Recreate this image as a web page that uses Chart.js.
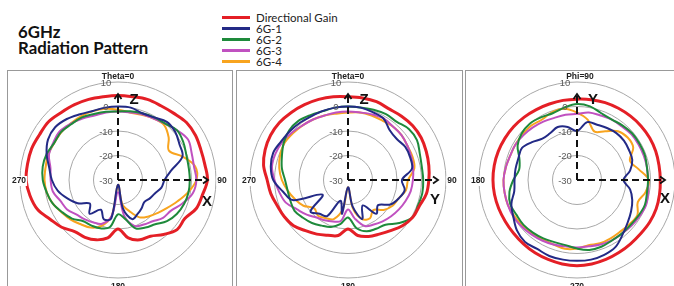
<!DOCTYPE html>
<html>
<head>
<meta charset="utf-8">
<script src="https://cdn.jsdelivr.net/npm/chart.js@4.4.1/dist/chart.umd.min.js"></script>
<style>
  html, body { margin: 0; padding: 0; background: #fff; }
  body { width: 674px; height: 286px; overflow: hidden; position: relative; font-family: Lato, "Liberation Sans", sans-serif; }
  .title { position: absolute; left: 18px; font-weight: bold; font-size: 16.8px; line-height: 17px; color: #111; white-space: nowrap; }
  #legend { position: absolute; left: 222px; top: 12px; }
  .row { display: flex; align-items: center; height: 11px; font-size: 11.5px; color: #222; white-space: nowrap; }
  .row i { display: inline-block; width: 28px; height: 2.5px; margin-right: 6px; }
  .box { position: absolute; top: 70px; height: 240px; border: 1px solid #999; }
  canvas { position: absolute; }
</style>
</head>
<body>
<div class="title" style="top:23px">6GHz</div>
<div class="title" style="top:38.5px">Radiation Pattern</div>
<div id="legend"></div>
<div class="box" style="left:7px;width:224px"></div>
<div class="box" style="left:236px;width:225px"></div>
<div class="box" style="left:465px;width:230px"></div>
<canvas id="xz" width="232" height="232" style="left:2px;top:64px"></canvas>
<canvas id="yz" width="232" height="232" style="left:232px;top:64px"></canvas>
<canvas id="xy" width="232" height="232" style="left:461px;top:64px"></canvas>
<script>
// angle categories, 10 degree steps, clockwise from top
const angleLabels = ['0','10','20','30','40','50','60','70','80','90','100','110','120','130','140','150','160','170',
  '180','190','200','210','220','230','240','250','260','270','280','290','300','310','320','330','340','350'];
const ringTicks = [-30, -20, -10, 0, 10];
const seriesNames = ['Directional Gain', '6G-1', '6G-2', '6G-3', '6G-4'];
const seriesColors = ['#e41f26', '#232a86', '#1e8a3b', '#c051c0', '#f8a41f'];
const seriesWidths = [3, 2, 2, 2, 2];

// XZ plane (Theta cut, phi = 0)
const xzGain = [4.5,4.5,5,5,5.5,6.5,6.5,6,6,6.5, 5,4,1.5,1.5,-1,-3.5,-4,-6, -10,-6,-4,-3,-2.5,0,2,5,6.5, 7.5,7.5,7.5,7,7,6,5.5,5,4.5];
const xz6G1 = [0,0,-1,-0.5,1,0.5,-1,-2,-8,-11, -12,-14,-15,-16,-15,-14,-13,-18, -28,-14,-13,-16,-12,-15,-11,-8,-5, -3,-1.5,1,3,3.5,2.5,1,0,0];
const xz6G2 = [-2,-1.5,-1,-0.5,0,1.5,0.8,-0.3,-0.7,-0.7, -0.8,-1.3,-2.3,-3.9,-6.4,-7.6,-9,-14, -16,-10.4,-9,-8.5,-8,-5.5,-3.7,-1.7,-0.5, 0.7,1.2,1,0.1,0.4,-0.3,-0.5,-1.3,-1.7];
const xz6G3 = [-2,-2,-1.5,-1,0,1.5,3,2,1.5,2, 1,-2,-5,-6,-8,-9,-10,-15, -25,-15,-11,-10,-9,-8,-6,-5,-3, -2.5,-2,0,0.5,1,0,-1,-2,-2];
const xz6G4 = [-1.3,-2,-1.7,-1,-0.7,-3,-6,-2,2,2, -1,-4.3,-7,-9,-10.6,-12.4,-16.5,-20, -28,-15,-10,-7.6,-6.4,-4.8,-3.5,-1.7,-0.5, 0,0,0.4,0.1,0.3,0.1,0.1,-0.1,-0.5];

// YZ plane (Theta cut, phi = 90)
const yzGain = [4,4,4,3.5,4,4.5,4.5,4,3.5,3, 2.5,1,0.5,-1,-3,-4.5,-5.5,-7, -10,-7,-6,-4.5,-3,-1,0,0.7,2, 3,5,6,6.5,6.5,6,5.5,5,4.5];
const yz6G1 = [0,0,-0.5,-1,-3.5,-4,-3,-3,-3.5,-8, -6.5,-8,-10,-14,-12,-18,-13,-19, -27,-16,-21,-13,-12,-10,-18,-6,-3, 0.5,2,2.5,1.5,1,0.5,0,0,0];
const yz6G2 = [0,0,0.5,1,1,2.4,2.5,1.2,0.6,0.7, 0.8,0.4,0.4,-2.7,-6.2,-7,-7.7,-10, -14.7,-11.7,-9.6,-8.5,-7.1,-6,-4.8,-5,-5, -4.3,-2.6,-1.3,0.3,1.4,1.5,0.6,-0.1,0];
const yz6G3 = [-2,-2,-1.5,-1,-1.5,-1.5,-2,-2.5,-3,-3.5, -4,-5,-6,-7,-8,-9,-10,-14, -18,-13,-12,-11,-10,-8,-6,-3,-1.5, 0,1.5,1.5,1,0,-1,-1.5,-2,-2];
const yz6G4 = [-2.5,-2,-2,-2,-1.5,-1.5,-2,-2,-2.5,-5.5, -6,-8,-9,-11,-14,-12,-13,-18, -27,-18,-13,-12,-11,-12,-9,-7,-5, -3,-1.5,-0.5,0,-0.5,-1,-1.5,-2,-2.5];

// XY plane (Phi cut, theta = 90)
const xyGain = [3,3.3,3.6,3.8,4,4.2,4.3,4.2,4,4, 4.2,4.4,4.3,4,4,4.2,4.5,4.8, 5,4.8,4.5,4.3,4,3.8,3.8,4,4.2, 4.3,4.3,4.2,4,3.8,3.5,3.2,3,3];
const xy6G1 = [-10,-6,-6,-5.5,-5,-5,-5.5,-6,-8,-11, -8,-6,-4.5,-3,-1,1.5,2.5,3, 3,3,3,2.5,3,2,0,-1.5,-4, -4.5,-4.5,-4.5,-4,-6,-8,-8,-7,-8];
const xy6G2 = [1,0.5,-1,-1.5,-1,-0.5,-0.5,-0.5,-1,-1, -1,-0.5,-1,-1.5,-1.5,-1.5,-1,-1, -2,-3,-3,-2.5,-2,-1.5,-1.5,-1,-2, -4,-6,-5,-2,-0.5,0,-0.5,-1,0];
const xy6G3 = [-3,-2,-2,-1.5,-1.5,-1,-1,-1,-1,-1, -0.5,0,-0.5,-1,-1.5,-1.5,-2,-2.5, -2.5,-2.5,-2,-1.5,-1,-0.5,0,0,0, 0,-0.5,-1,-1,-1.5,-2,-2.5,-3,-3];
const xy6G4 = [-2.5,-5,-9,-7,-4,-3,-3.5,-7,-4.5,-0.7, -1.6,-3.6,-1.5,-2,-2.5,-2.5,-2.5,-3, -2,-1.5,-2,-2,-1.5,-1,-0.5,0,0, 0,-0.5,-1,-1,-1,-1,-1.5,-0.5,-0.5];

// legend
const legend = document.getElementById('legend');
seriesNames.forEach((name, i) => {
  const row = document.createElement('div');
  row.className = 'row';
  row.innerHTML = '<i style="background:' + seriesColors[i] + '"></i>' + name;
  legend.appendChild(row);
});

// ring labels, cardinal labels and the dashed axis arrows
const decorPlugin = {
  id: 'decor',
  afterDatasetsDraw(chart, args, o) {
    const s = chart.scales.r;
    const ctx = chart.ctx;
    const cx = s.xCenter, cy = s.yCenter, R = s.drawingArea;
    ctx.save();
    ctx.textAlign = 'center';
    ctx.textBaseline = 'middle';

    ctx.fillStyle = '#5a5a5a';
    ctx.font = '9.5px "Liberation Sans"';
    s.ticks.forEach(t => ctx.fillText(t.label, cx - 12, cy - s.getDistanceFromCenterForValue(t.value) + 1));

    ctx.font = 'bold 8.5px "Liberation Sans"';
    const lbl = (text, x, y) => {
      const w = ctx.measureText(text).width;
      ctx.fillStyle = '#fff';
      ctx.fillRect(x - w / 2 - 1, y - 5, w + 2, 10);
      ctx.fillStyle = '#222';
      ctx.fillText(text, x, y);
    };
    if (o.top) { ctx.fillStyle = '#222'; ctx.fillText(o.top, cx + (o.topDx || 0), cy - R - 5); }
    if (o.right) lbl(o.right, cx + R + 6, cy + 1);
    if (o.left) lbl(o.left, cx - R - 1, cy + 1);
    if (o.bottom) lbl(o.bottom, cx, cy + R + 9);

    // dashed axes
    const up = 86, rt = o.rt || 90;
    ctx.strokeStyle = '#111';
    ctx.lineWidth = 2;
    ctx.setLineDash([7, 4]);
    ctx.beginPath();
    ctx.moveTo(cx, cy); ctx.lineTo(cx, cy - up + 2);
    ctx.moveTo(cx, cy); ctx.lineTo(cx + rt - 2, cy);
    ctx.stroke();
    ctx.setLineDash([]);
    ctx.lineWidth = 1.8;
    ctx.beginPath();
    ctx.moveTo(cx - 3.5, cy - up + 5); ctx.lineTo(cx, cy - up); ctx.lineTo(cx + 3.5, cy - up + 5);
    ctx.moveTo(cx + rt - 5, cy - 3.5); ctx.lineTo(cx + rt, cy); ctx.lineTo(cx + rt - 5, cy + 3.5);
    ctx.stroke();

    ctx.fillStyle = '#111';
    ctx.font = 'bold 15px "Liberation Sans"';
    ctx.fillText(o.upName, cx + 16, cy - 80);
    ctx.fillText(o.rightName, cx + o.rnDx, cy + o.rnDy);
    ctx.restore();
  }
};

function makePolar(id, series, deco) {
  return new Chart(document.getElementById(id), {
    type: 'radar',
    data: {
      labels: angleLabels,
      datasets: series.map((vals, i) => ({
        label: seriesNames[i],
        data: vals,
        borderColor: seriesColors[i],
        borderWidth: seriesWidths[i],
        backgroundColor: 'transparent',
        fill: false,
        pointRadius: 0,
        tension: 0.35
      }))
    },
    options: {
      responsive: false,
      animation: false,
      devicePixelRatio: 1,
      layout: { padding: 18 },
      plugins: { legend: { display: false }, tooltip: { enabled: false }, decor: deco },
      scales: {
        r: {
          min: ringTicks[0],
          max: ringTicks[ringTicks.length - 1],
          ticks: { stepSize: 10, display: false },
          grid: { circular: true, color: '#a8a8a8', lineWidth: 1 },
          angleLines: { display: false },
          pointLabels: { display: false }
        }
      }
    },
    plugins: [decorPlugin]
  });
}

makePolar('xz', [xzGain, xz6G1, xz6G2, xz6G3, xz6G4],
  { top: 'Theta=0', right: '90', bottom: '180', left: '270', upName: 'Z', rightName: 'X', rnDx: 89, rnDy: 22 });
makePolar('yz', [yzGain, yz6G1, yz6G2, yz6G3, yz6G4],
  { top: 'Theta=0', right: '90', bottom: '180', left: '270', upName: 'Z', rightName: 'Y', rnDx: 87, rnDy: 20 });
makePolar('xy', [xyGain, xy6G1, xy6G2, xy6G3, xy6G4],
  { top: 'Phi=90', topDx: 3, bottom: '270', left: '180', upName: 'Y', rightName: 'X', rnDx: 88, rnDy: 19, rt: 88 });
</script>
</body>
</html>
